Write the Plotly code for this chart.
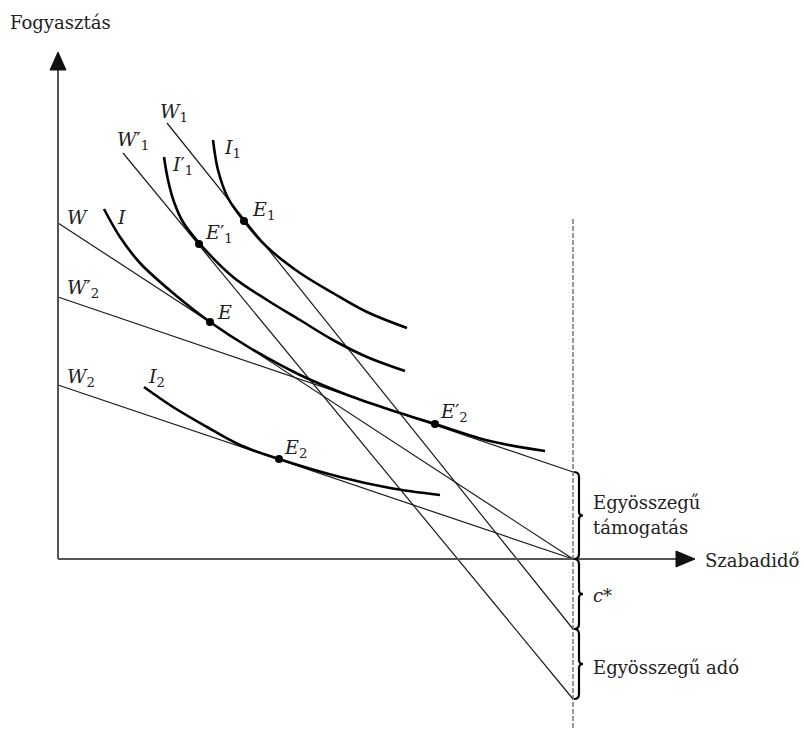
import plotly.graph_objects as go

# ---- data (economic coordinates: x = leisure, y = consumption) ----
T = 515  # time endowment (c* point on the leisure axis)

# budget lines: start point and end point
W_x = [0, T];        W_y = [336, 0]
W2p_x = [0, T];      W2p_y = [262, 87]
W2_x = [0, T];       W2_y = [174, 0]
W1_x = [109, T];     W1_y = [436, -70]
W1p_x = [65, T];     W1p_y = [406, -140]

# indifference curves (read points)
I1_x = [155, 160, 170, 186, 209, 242, 275, 309, 349]
I1_y = [419, 389, 361, 338, 312, 286, 266, 247, 231]
I1p_x = [106, 110, 116, 125, 142, 175, 209, 242, 275, 309, 347]
I1p_y = [402, 379, 357, 337, 315, 282, 259, 239, 219, 202, 188]
I_x = [46, 62, 82, 115, 152, 192, 242, 292, 342, 377, 432, 487]
I_y = [350, 322, 296, 266, 237, 211, 184, 163, 146, 135, 118, 108]
I2_x = [86, 115, 149, 182, 221, 282, 332, 382]
I2_y = [172, 152, 132, 114, 100, 82, 71, 64]

# equilibrium points
E_names = ["E", "E1", "E1p", "E2", "E2p"]
E_x = [152, 186, 141, 221, 377]
E_y = [237, 338, 315, 100, 135]

# braces (top, bottom) on the vertical line at T
brace_top = [87, 0, -70]
brace_bot = [0, -70, -140]

# labels
labels = [
    ("<i>W</i><sub>1</sub>", 100, 447),
    ("<i>W</i>′<sub>1</sub>", 57, 419),
    ("<i>I</i><sub>1</sub>", 164, 411),
    ("<i>I</i>′<sub>1</sub>", 112, 394),
    ("<i>E</i><sub>1</sub>", 192, 349),
    ("<i>E</i>′<sub>1</sub>", 145, 326),
    ("<i>W</i>", 7, 342),
    ("<i>I</i>", 57, 342),
    ("<i>W</i>′<sub>2</sub>", 7, 271),
    ("<i>E</i>", 157, 247),
    ("<i>W</i><sub>2</sub>", 7, 182),
    ("<i>I</i><sub>2</sub>", 88, 182),
    ("<i>E</i><sub>2</sub>", 224, 111),
    ("<i>E</i>′<sub>2</sub>", 380, 147),
]

FONT = "DejaVu Serif"
INK = "#1a1a1a"

fig = go.Figure()

for xs, ys in [(W_x, W_y), (W2p_x, W2p_y), (W2_x, W2_y), (W1_x, W1_y), (W1p_x, W1p_y)]:
    fig.add_trace(go.Scatter(x=xs, y=ys, mode="lines",
                             line=dict(color=INK, width=1.2), hoverinfo="skip"))

for xs, ys in [(I1_x, I1_y), (I1p_x, I1p_y), (I_x, I_y), (I2_x, I2_y)]:
    fig.add_trace(go.Scatter(x=xs, y=ys, mode="lines",
                             line=dict(color="#000", width=2.6, shape="spline", smoothing=1.0),
                             hoverinfo="skip"))

fig.add_trace(go.Scatter(x=E_x, y=E_y, mode="markers",
                         marker=dict(color="#000", size=8), hoverinfo="skip"))

# axes
y_tip, x_tip = 507, 637
fig.add_shape(type="line", x0=0, y0=0, x1=0, y1=y_tip - 12, line=dict(color="#555", width=2))
fig.add_shape(type="line", x0=0, y0=0, x1=x_tip - 12, y1=0, line=dict(color="#555", width=2))
fig.add_shape(type="path", path=f"M -8,{y_tip-18} L 0,{y_tip} L 8,{y_tip-18} Z",
              fillcolor="#111", line=dict(color="#111", width=1))
fig.add_shape(type="path", path=f"M {x_tip-19},8 L {x_tip},0 L {x_tip-19},-8 Z",
              fillcolor="#111", line=dict(color="#111", width=1))

# dashed vertical line
fig.add_shape(type="line", x0=T, y0=340, x1=T, y1=-169,
              line=dict(color="#333", width=1, dash="5px,2px"))

# braces
bx = T + 6
for yt, yb in zip(brace_top, brace_bot):
    ym = (yt + yb) / 2
    p = (f"M {bx-5},{yt} Q {bx},{yt} {bx},{yt-5} L {bx},{ym+4} "
         f"Q {bx},{ym} {bx+4},{ym} Q {bx},{ym} {bx},{ym-4} "
         f"L {bx},{yb+5} Q {bx},{yb} {bx-5},{yb}")
    fig.add_shape(type="path", path=p, line=dict(color="#000", width=2.2))

for txt, x, y in labels:
    fig.add_annotation(x=x, y=y, text=txt, showarrow=False, xanchor="left", yanchor="middle",
                       font=dict(family=FONT, size=19, color="#222"))

plain = [
    ("Fogyasztás", -50, 537, "left"),
    ("Szabadidő", 645, -1, "left"),
    ("Egyösszegű", 533, 57, "left"),
    ("támogatás", 533, 32, "left"),
    ("<i>c</i>*", 533, -36, "left"),
    ("Egyösszegű adó", 533, -108, "left"),
]
for txt, x, y, anc in plain:
    fig.add_annotation(x=x, y=y, text=txt, showarrow=False, xanchor=anc, yanchor="middle",
                       font=dict(family=FONT, size=18, color="#222"))

fig.update_layout(
    width=804, height=731,
    margin=dict(l=0, r=0, t=0, b=0),
    paper_bgcolor="white", plot_bgcolor="white",
    showlegend=False,
    xaxis=dict(visible=False, range=[-58, 746], fixedrange=True),
    yaxis=dict(visible=False, range=[-172, 559], fixedrange=True),
)

fig.write_html("out.html", config={"displayModeBar": False})

# remove the default page margin so the 804x731 figure fits the window exactly
with open("out.html", "r", encoding="utf-8") as f:
    html = f.read()
html = html.replace("<head>", "<head><style>html,body{margin:0;padding:0;overflow:hidden;}</style>", 1)
with open("out.html", "w", encoding="utf-8") as f:
    f.write(html)
